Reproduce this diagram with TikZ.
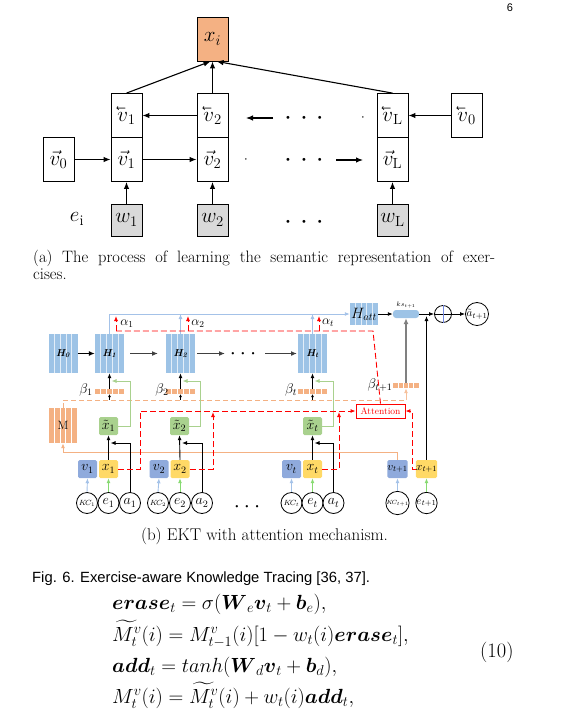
\RequirePackage{fix-cm}
\documentclass[tikz,border=0pt]{standalone}
\usepackage{amsmath,amssymb,graphicx}
\usepackage{fontspec}
\newfontfamily\helv{Liberation Sans}
\usetikzlibrary{arrows.meta,calc}
\definecolor{xor}{HTML}{F4B183}
\definecolor{wgray}{HTML}{D9D9D9}
\definecolor{hblue}{HTML}{9DC3E6}
\definecolor{vblue}{HTML}{8FAADC}
\definecolor{xyel}{HTML}{FFD966}
\definecolor{xgreen}{HTML}{A9D18E}
\definecolor{lblue}{HTML}{A4C2E8}
\definecolor{lgreen}{HTML}{A9D18E}
\definecolor{redc}{HTML}{FF0000}
\definecolor{dgray}{HTML}{404040}
\newcommand{\myfs}[1]{\fontsize{#1}{#1}\selectfont}
\newcommand{\lvec}[1]{\reflectbox{$\vec{\reflectbox{$#1$}}$}}
\begin{document}
\begin{tikzpicture}[x=1pt,y=-1pt,
  stripes/.style={path picture={\foreach \k in {1,2,3,4}{\draw[#1,line width=0.7pt] ($(path picture bounding box.south west)!\k/5!(path picture bounding box.south east)$) -- ($(path picture bounding box.north west)!\k/5!(path picture bounding box.north east)$);}}},
  abox/.style={draw,line width=0.8pt,fill=white,minimum width=31pt,minimum height=44pt,inner sep=0pt,font=\myfs{21}},
  wbox/.style={abox,fill=wgray,minimum height=32pt},
  aarr/.style={-{Latex[length=7pt,width=5.5pt]},line width=1.1pt},
  adots/.style={font=\myfs{11},inner sep=0pt},
  hbox/.style={fill=hblue,minimum width=29pt,minimum height=39pt,inner sep=0pt,stripes=white!70!hblue,font=\myfs{10}\bfseries\itshape},
  bbar/.style={fill=xor,minimum width=29pt,minimum height=5pt,inner sep=0pt,stripes=white},
  sbox/.style={minimum width=19pt,minimum height=18pt,inner sep=0pt,rounded corners=1.5pt,font=\myfs{14}},
  circ/.style={circle,draw,line width=0.8pt,fill=white,minimum size=21pt,inner sep=0pt,font=\myfs{14}},
  tip/.style={-{Latex[length=5pt,width=4pt]}},
  barr/.style={tip,line width=0.9pt},
  harr/.style={-{Latex[length=6pt,width=5pt]},line width=1.2pt,dgray},
  reddash/.style={redc,line width=0.9pt,dash pattern=on 6pt off 3pt},
  bdots/.style={font=\myfs{8},inner sep=0pt}
]
\useasboundingbox (0,0) rectangle (563,715);

% page number
\node[font=\helv\myfs{11}] (pg) at (510,8) {6};

% ================= (a) =================
\node[abox,fill=xor] (xi) at (212.5,39) {$x_i$};
\node[abox] (b1u) at (126.5,115.5) {$\lvec{v}_1$};
\node[abox] (b1d) at (126.5,159.5) {$\vec{v}_1$};
\node[abox] (b2u) at (212.5,115.5) {$\lvec{v}_2$};
\node[abox] (b2d) at (212.5,159.5) {$\vec{v}_2$};
\node[abox] (bLu) at (392.5,115.5) {$\lvec{v}_{\mathrm{L}}$};
\node[abox] (bLd) at (392.5,159.5) {$\vec{v}_{\mathrm{L}}$};
\node[abox] (v0l) at (58.5,159.5) {$\vec{v}_0$};
\node[abox] (v0r) at (466.5,115.5) {$\lvec{v}_0$};
\node[wbox] (w1) at (126.5,220) {$w_1$};
\node[wbox] (w2) at (212.5,220) {$w_2$};
\node[wbox] (wL) at (392.5,220) {$w_{\mathrm{L}}$};
\node[font=\myfs{21}] (ei) at (77,219) {$e_{\mathrm{i}}$};

\node[adots] (du) at (304,118) {\textbullet\hspace{7.5pt}\textbullet\hspace{7.5pt}\textbullet};
\node[adots] (dd) at (304,160) {\textbullet\hspace{7.5pt}\textbullet\hspace{7.5pt}\textbullet};
\node[adots] (dw) at (304,222) {\textbullet\hspace{7.5pt}\textbullet\hspace{7.5pt}\textbullet};
\node[font=\myfs{5},inner sep=0pt] (sd1) at (363,118) {\textbullet};
\node[font=\myfs{5},inner sep=0pt] (sd2) at (246,160) {\textbullet};

\coordinate (ua1) at (273,118);
\coordinate (ua2) at (246,118);
\coordinate (la1) at (336,160);
\coordinate (la2) at (363,160);

\draw[aarr] (b2u.west) -- (b1u.east);
\draw[aarr] (ua1) -- (ua2);
\draw[aarr] (v0r.west) -- (bLu.east);
\draw[aarr] (v0l.east) -- (b1d.west);
\draw[aarr] (b1d.east) -- (b2d.west);
\draw[aarr] (la1) -- (la2);
\draw[aarr] (w1.north) -- (b1d.south);
\draw[aarr] (w2.north) -- (b2d.south);
\draw[aarr] (wL.north) -- (bLd.south);
\draw[aarr] (b1u.north) -- ([xshift=-2pt]xi.south);
\draw[aarr] (b2u.north) -- (xi.south);
\draw[aarr] (bLu.north) -- ([xshift=4pt]xi.south);

\node[anchor=base west,font=\myfs{16.5},inner sep=0pt] (capa1) at (33,262) {\makebox[462pt][s]{(a) The process of learning the semantic representation of exer-}};
\node[anchor=base west,font=\myfs{16.5},inner sep=0pt] (capa2) at (33,279) {cises.};

% ================= (b) =================
\node[hbox] (H0) at (63,353.5) {H\textsubscript{0}};
\node[hbox] (H1) at (109.5,353.5) {H\textsubscript{1}};
\node[hbox] (H2) at (180.5,353.5) {H\textsubscript{2}};
\node[hbox] (Ht) at (312.5,353.5) {H\textsubscript{t}};
\node[fill=hblue,minimum width=28pt,minimum height=22pt,inner sep=0pt,stripes=white!70!hblue,font=\myfs{15}] (Hatt) at (364,314) {$H_{att}$};
\node[fill=hblue,rounded corners=3pt,minimum width=26pt,minimum height=8pt,inner sep=0pt] (ks) at (406,314) {};
\node[font=\myfs{6.5},inner sep=0pt] (kslab) at (406,305) {$ks_{t+1}$};
\node[circle,draw,line width=0.8pt,minimum size=17pt,inner sep=0pt] (plus) at (443,314) {};
\draw[line width=0.8pt] (plus.west) -- (plus.east);
\draw[line width=0.8pt,vblue!80!blue] (plus.north) -- (plus.south);
\node[circ,font=\myfs{11}] (ahat) at (477,314) {$\tilde{a}_{t+1}$};

\node[bdots] (dh) at (243,354) {\textbullet\hspace{3.5pt}\textbullet\hspace{3.5pt}\textbullet};

\node[bbar] (B1) at (109.5,391.5) {};
\node[bbar] (B2) at (180.5,391.5) {};
\node[bbar] (Bt) at (312.5,391.5) {};
\node[bbar,minimum width=26pt] (BT1) at (406,385.5) {};
\node[font=\myfs{14}] (lb1) at (86,390) {$\beta_1$};
\node[font=\myfs{14}] (lb2) at (162,390) {$\beta_2$};
\node[font=\myfs{14}] (lbt) at (291,390) {$\beta_t$};
\node[font=\myfs{14}] (lbT) at (380,385) {$\beta_{t+1}$};

\node[font=\myfs{13}] (al1) at (127,324) {$\alpha_1$};
\node[font=\myfs{13}] (al2) at (198,324) {$\alpha_2$};
\node[font=\myfs{13}] (alt) at (328,323) {$\alpha_t$};

\node[fill=xor,minimum width=28pt,minimum height=35pt,inner sep=0pt,stripes=white,font=\myfs{12}] (M) at (63,425.5) {M};

\node[sbox,fill=xgreen] (xt1) at (108.5,426) {$\tilde{x}_1$};
\node[sbox,fill=xgreen] (xt2) at (179.5,426) {$\tilde{x}_2$};
\node[sbox,fill=xgreen] (xtt) at (312.5,426) {$\tilde{x}_t$};

\node[draw=redc,line width=0.9pt,fill=white,text=redc,minimum width=49pt,minimum height=14pt,inner sep=0pt,font=\myfs{9.5}] (att) at (380.5,411) {Attention};

\node[sbox,fill=vblue] (v1) at (87.5,469) {$v_1$};
\node[sbox,fill=xyel] (x1) at (108.5,469) {$x_1$};
\node[sbox,fill=vblue] (v2) at (159,469) {$v_2$};
\node[sbox,fill=xyel] (x2) at (180,469) {$x_2$};
\node[sbox,fill=vblue] (vt) at (291.5,469) {$v_t$};
\node[sbox,fill=xyel] (xt) at (312.5,469) {$x_t$};
\node[sbox,fill=vblue,font=\myfs{11.5}] (vT1) at (397.5,469) {$v_{t+1}$};
\node[sbox,fill=xyel,font=\myfs{11.5}] (xT1) at (426.5,469) {$x_{t+1}$};

\node[circ,font=\myfs{7.5}] (kc1) at (87,503) {$K\!C_1$};
\node[circ] (e1) at (108.5,503) {$e_1$};
\node[circ] (a1) at (130,503) {$a_1$};
\node[circ,font=\myfs{7.5}] (kc2) at (158,503) {$K\!C_2$};
\node[circ] (e2) at (180,503) {$e_2$};
\node[circ] (a2) at (202,503) {$a_2$};
\node[circ,font=\myfs{7.5}] (kct) at (291.5,503) {$K\!C_t$};
\node[circ] (et) at (312.5,503) {$e_t$};
\node[circ] (at) at (333.5,503) {$a_t$};
\node[circ,font=\myfs{6}] (kcT) at (397.5,503) {$K\!C_{t+1}$};
\node[circ,font=\myfs{11}] (eT) at (426.5,503) {$e_{t+1}$};
\node[bdots] (db) at (247,507) {\textbullet\hspace{3.5pt}\textbullet\hspace{3.5pt}\textbullet};

% H chain
\coordinate (h12a) at (130,353.5); \coordinate (h12b) at (158,353.5);
\coordinate (h2da) at (197,353.5); \coordinate (h2db) at (225,353.5);
\coordinate (hdta) at (265,353.5); \coordinate (hdtb) at (297,353.5);
\draw[harr,black] (H0.east) -- (H1.west);
\draw[harr] (h12a) -- (h12b);
\draw[harr] (h2da) -- (h2db);
\draw[harr] (hdta) -- (hdtb);

% blue lines to H_att
\coordinate (bl1) at (109.5,314);
\coordinate (bl2) at (180.5,314);
\coordinate (blt) at (312.5,314);
\draw[lblue,line width=0.9pt,tip] (H1.north) -- (bl1) -- (Hatt.west);
\draw[lblue,line width=0.9pt,tip] (H2.north) -- (bl2);
\draw[lblue,line width=0.9pt,tip] (Ht.north) -- (blt);

% red alpha lines
\coordinate (ra) at (373,331);
\coordinate (ra1) at (116,331); \coordinate (ra1t) at (116,316);
\coordinate (ra2) at (188,331); \coordinate (ra2t) at (188,316);
\coordinate (rat) at (319,331); \coordinate (ratt) at (319,316);
\draw[reddash] (att.north) -- (ra) -- (ra1);
\draw[reddash,tip] (ra1) -- (ra1t);
\draw[reddash,tip] (ra2) -- (ra2t);
\draw[reddash,tip] (rat) -- (ratt);

% beta to H
\draw[barr] (B1.north) -- (H1.south);
\draw[barr] (B2.north) -- (H2.south);
\draw[barr] (Bt.north) -- (Ht.south);
\coordinate (sb1) at (109.5,400); \coordinate (sb2) at (180.5,400); \coordinate (sbt) at (312.5,400);
\draw[line width=0.7pt,-{Latex[length=3pt,width=3pt]}] (sb1) -- (B1.south);
\draw[line width=0.7pt,-{Latex[length=3pt,width=3pt]}] (sb2) -- (B2.south);
\draw[line width=0.7pt,-{Latex[length=3pt,width=3pt]}] (sbt) -- (Bt.south);

% orange dashed from M
\coordinate (om1) at (63,400); \coordinate (om2) at (406,400);
\draw[xor,line width=0.9pt,dash pattern=on 5pt off 3pt] (M.north) -- (om1) -- (om2);
\draw[xor!80!white,line width=0.9pt,tip] (om2) -- (BT1.south);

% gray to ks
\draw[gray,line width=1.4pt,-{Latex[length=6pt,width=5pt]}] (BT1.north) -- (ks.south);
% black from x_{t+1}
\coordinate (xk) at (426.5,316);
\draw[barr] (xT1.north) -- (xk);

\draw[barr] (Hatt.east) -- (ks.west);
\draw[barr] (ks.east) -- (plus.west);
\draw[barr] (plus.east) -- (ahat.west);

% orange solid v_{t+1} -> M
\coordinate (os1) at (397.5,452); \coordinate (os2) at (63,452);
\draw[xor,line width=0.9pt,tip] (vT1.north) -- (os1) -- (os2) -- (M.south);

% green lines
\draw[lgreen,line width=0.8pt,tip] (xt1.east) -- (130,426) -- (130,381) -- (111.5,381);
\draw[lgreen,line width=0.8pt,tip] (xt2.east) -- (200,426) -- (200,381) -- (182.5,381);
\draw[lgreen,line width=0.8pt,tip] (xtt.east) -- (333,426) -- (333,381) -- (314.5,381);

% x -> x tilde, a lines
\draw[barr] (x1.north) -- (xt1.south);
\draw[barr] (x2.north) -- (xt2.south);
\draw[barr] (xt.north) -- (xtt.south);
\draw[barr] (a1.north) -- (130,443) -- (110.5,443);
\draw[barr] (a2.north) -- (202,443) -- (182,443);
\draw[barr] (at.north) -- (333.5,443) -- (314.5,443);

% KC -> v, e -> x
\foreach \kc/\vv in {kc1/v1,kc2/v2,kct/vt,kcT/vT1}{\draw[lblue,line width=0.9pt,tip] (\kc.north) -- (\vv.south);}
\foreach \ee/\xx in {e1/x1,e2/x2,et/xt,eT/xT1}{\draw[lgreen!80!green,line width=0.9pt,tip] (\ee.north) -- (\xx.south);}

% red lines from x
\draw[reddash,tip] (x1.east) -- (140,469) -- (140,411) -- (att.west);
\draw[reddash,tip] (x2.east) -- (213,469) -- (213,412);
\draw[reddash,tip] (xt.east) -- (339,469) -- (339,412);
\draw[reddash,tip] (xT1.west) -- (412,469) -- (412,411) -- (att.east);

\node[anchor=base,font=\myfs{17},inner sep=0pt] (capb) at (264.5,540) {(b) EKT with attention mechanism.};

% ================= caption & equations =================
\node[anchor=base west,font=\helv\myfs{14.8},inner sep=0pt] (fig) at (32,582) {Fig. 6. Exercise-aware Knowledge Tracing [36, 37].};

\node[anchor=base west,font=\myfs{20.5},inner sep=0pt] (eq1) at (112,609) {$\boldsymbol{erase}_t=\sigma(\boldsymbol{W}_e\boldsymbol{v}_t+\boldsymbol{b}_e),$};
\node[anchor=base west,font=\myfs{20.5},inner sep=0pt] (eq2) at (112,641) {$\widetilde{M_t^v}(i)=M_{t-1}^v(i)[1-w_t(i)\boldsymbol{erase}_t],$};
\node[anchor=base west,font=\myfs{20.5},inner sep=0pt] (eq3) at (112,672) {$\boldsymbol{add}_t=tanh(\boldsymbol{W}_d\boldsymbol{v}_t+\boldsymbol{b}_d),$};
\node[anchor=base west,font=\myfs{20.5},inner sep=0pt] (eq4) at (112,703) {$M_t^v(i)=\widetilde{M_t^v}(i)+w_t(i)\boldsymbol{add}_t,$};
\node[anchor=base west,font=\myfs{20.5},inner sep=0pt] (eqn) at (480,657) {(10)};
\end{tikzpicture}
\end{document}
